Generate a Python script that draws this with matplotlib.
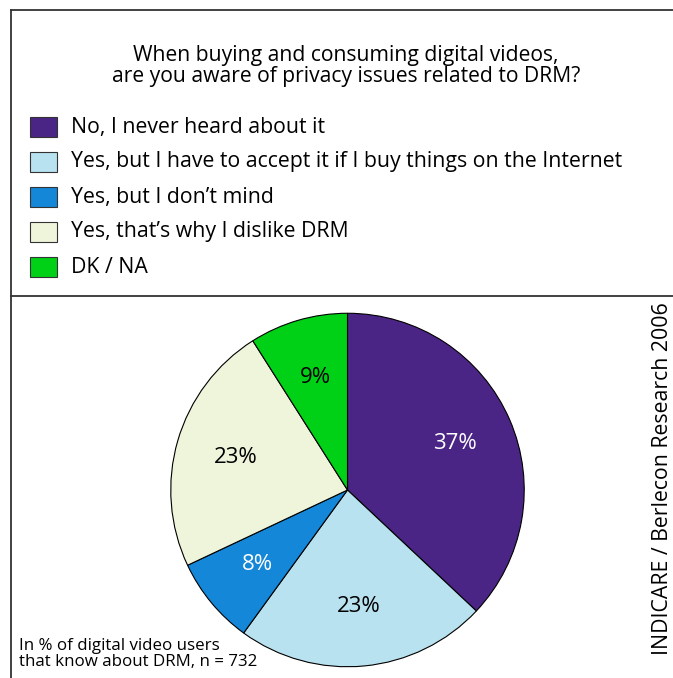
import matplotlib.pyplot as plt
from matplotlib.lines import Line2D
from matplotlib.patches import Rectangle

# Survey answers, in % of respondents
answers = [
    "No, I never heard about it",
    "Yes, but I have to accept it if I buy things on the Internet",
    "Yes, but I don\u2019t mind",
    "Yes, that\u2019s why I dislike DRM",
    "DK / NA",
]
shares = [37, 23, 8, 23, 9]
colors = ["#4B2585", "#B8E2EF", "#1487D9", "#EEF5DA", "#00D116"]
label_colors = ["white", "black", "white", "black", "black"]

title = ("When buying and consuming digital videos,\n"
         "are you aware of privacy issues related to DRM?")
note = "In % of digital video users\nthat know about DRM, n = 732"
source = "INDICARE / Berlecon Research 2006"

plt.rcParams["font.family"] = ["Open Sans", "DejaVu Sans"]

W, H = 673, 678
fig = plt.figure(figsize=(W / 100, H / 100), dpi=100)


def fx(px):
    return px / W


def fy(py):
    # pixel rows counted from the top
    return 1 - py / H


# frame: top edge, left edge and the divider under the legend
frame_kw = dict(color="#333333", linewidth=1.3, transform=fig.transFigure)
fig.add_artist(Line2D([fx(11.5), 1], [fy(10), fy(10)], **frame_kw))
fig.add_artist(Line2D([fx(11.5), fx(11.5)], [fy(10), 0], **frame_kw))
fig.add_artist(Line2D([fx(11.5), 1], [fy(296), fy(296)], **frame_kw))

fig.text(fx(346), fy(66), title, ha="center", va="center",
         fontsize=15.2, linespacing=1.0)

# legend rows
for i, (ans, col) in enumerate(zip(answers, colors)):
    yc = 127 + 35 * i
    fig.add_artist(Rectangle((fx(30), fy(yc + 10)), fx(27), 20 / H,
                             facecolor=col, edgecolor="#333333",
                             linewidth=0.8, transform=fig.transFigure))
    fig.text(fx(71), fy(yc), ans, ha="left", va="center", fontsize=15.3)

# pie
cx, cy, r = 347.5, 490, 178.5
ax = fig.add_axes([fx(cx - r), fy(cy + r), 2 * r / W, 2 * r / H])
wedges, texts = ax.pie(shares, colors=colors, startangle=90, counterclock=False,
                       labels=[f"{v}%" for v in shares], labeldistance=0.66,
                       wedgeprops=dict(edgecolor="black", linewidth=0.8))
for t, c in zip(texts, label_colors):
    t.set_color(c)
    t.set_fontsize(16)
    t.set_ha("center")
    t.set_va("center")
ax.set_xlim(-1.01, 1.01)
ax.set_ylim(-1.01, 1.01)
ax.set_aspect("equal")
ax.axis("off")

fig.text(fx(19), fy(654), note, ha="left", va="center", fontsize=12.2,
         linespacing=1.0)
fig.text(fx(663), fy(479), source, ha="center", va="center", rotation=90,
         fontsize=15.3)

fig.savefig("out.png", dpi=100)
